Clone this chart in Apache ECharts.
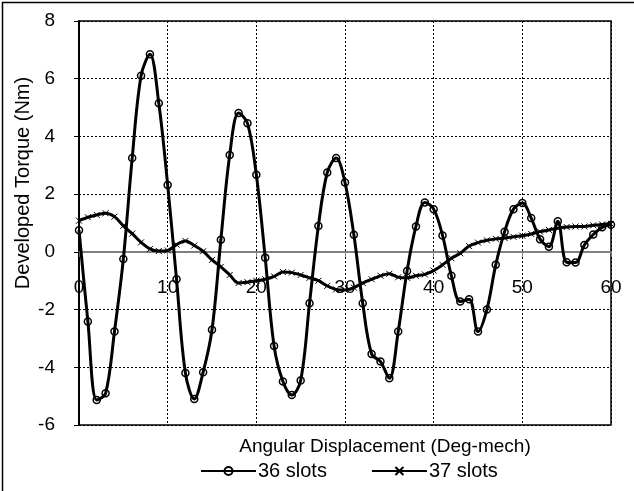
<!DOCTYPE html>
<html><head><meta charset="utf-8">
<script src="https://cdn.jsdelivr.net/npm/echarts@6/dist/echarts.min.js"></script>
<style>html,body{margin:0;padding:0;background:#fff}#c{width:634px;height:491px}</style>
</head><body><div id="c"></div>
<script>
const angles = [0,1,2,3,4,5,6,7,8,9,10,11,12,13,14,15,16,17,18,19,20,21,22,23,24,25,26,27,28,29,30,
  31,32,33,34,35,36,37,38,39,40,41,42,43,44,45,46,47,48,49,50,51,52,53,54,55,56,57,58,59,60];
const slots36 = [0.75,-2.41,-5.13,-4.9,-2.76,-0.25,3.25,6.1,6.85,5.15,2.32,-0.95,-4.2,-5.1,-4.17,-2.7,
  0.42,3.36,4.81,4.46,2.67,-0.2,-3.26,-4.49,-4.96,-4.46,-1.78,0.9,2.75,3.25,2.4,0.59,-1.78,-3.54,-3.8,
  -4.38,-2.76,-0.66,0.88,1.71,1.48,0.57,-0.83,-1.72,-1.64,-2.76,-2.0,-0.45,0.7,1.48,1.69,1.17,0.44,0.18,
  1.06,-0.36,-0.37,0.24,0.6,0.85,0.94];
const slots37 = [1.08,1.2,1.28,1.34,1.22,0.9,0.63,0.33,0.1,0.03,0.05,0.25,0.38,0.22,0.02,-0.28,-0.52,
  -0.8,-1.08,-1.05,-1.0,-0.95,-0.85,-0.7,-0.72,-0.8,-0.9,-1.0,-1.18,-1.3,-1.32,-1.24,-1.08,-0.95,-0.83,
  -0.76,-0.88,-0.9,-0.83,-0.78,-0.65,-0.45,-0.22,-0.05,0.2,0.32,0.4,0.45,0.48,0.52,0.56,0.62,0.7,0.76,
  0.82,0.86,0.88,0.88,0.92,0.95,0.97];
const xTicks = {min:0, max:60, step:10};
const yTicks = {min:-6, max:8, step:2};
const seriesNames = ['36 slots','37 slots'];
const xTitle = 'Angular Displacement (Deg-mech)';
const yTitle = 'Developed Torque (Nm)';

const FONT = 'Liberation Sans';
const W = 634, H = 491;
const G = {left:79, right:23, top:21, bottom:66};
const gridH = H - G.top - G.bottom;
// put the category axis line on y = 0 (as in the spreadsheet chart)
const zeroOffset = -((0 - yTicks.min) / (yTicks.max - yTicks.min)) * gridH;

const chart = echarts.init(document.getElementById('c'), null, {renderer:'canvas'});
const pairs = (vals) => angles.map((a,i)=>[a, vals[i]]);
chart.setOption({
  animation:false,
  backgroundColor:'#fff',
  grid:{left:G.left, right:G.right, top:G.top, bottom:G.bottom, show:true, borderColor:'#000', borderWidth:1.5, backgroundColor:'transparent'},
  xAxis:{type:'value', min:xTicks.min, max:xTicks.max, interval:xTicks.step,
    position:'bottom', offset:zeroOffset,
    axisLine:{onZero:false, lineStyle:{color:'#808080', width:2}},
    axisTick:{show:true, length:5, lineStyle:{color:'#808080'}},
    axisLabel:{color:'#000', fontSize:19, fontFamily:FONT, margin:26},
    splitLine:{show:true, lineStyle:{color:'#000', type:[2,2], width:1}}},
  yAxis:{type:'value', min:yTicks.min, max:yTicks.max, interval:yTicks.step,
    axisLine:{show:true, onZero:false, lineStyle:{color:'#000', width:2}},
    axisTick:{show:true, length:5, lineStyle:{color:'#000'}},
    axisLabel:{color:'#000', fontSize:19, fontFamily:FONT, margin:24},
    splitLine:{show:true, lineStyle:{color:'#000', type:[2,2], width:1}}},
  legend:{left:200, top:461, padding:0, itemGap:44, itemWidth:55, itemHeight:10,
    textStyle:{color:'#000', fontSize:20, fontFamily:FONT, padding:[0,0,0,-3]},
    data:seriesNames},
  graphic:[
    {type:'rect', left:0, top:0, shape:{width:633, height:490}, style:{fill:'none', stroke:'#000', lineWidth:1.5}, silent:true},
    {type:'text', x:385, y:447, style:{text:xTitle, fill:'#000', font:'19px "Liberation Sans"', textAlign:'center', textVerticalAlign:'middle'}},
    {type:'text', x:23, y:183, rotation:Math.PI/2, style:{text:yTitle, fill:'#000', font:'20px "Liberation Sans"', textAlign:'center', textVerticalAlign:'middle'}}
  ],
  series:[
    {name:seriesNames[0], type:'line', data:pairs(slots36), smooth:0.35, z:3,
      lineStyle:{color:'#000', width:3},
      symbol:'circle', symbolSize:7,
      itemStyle:{color:'rgba(255,255,255,0)', borderColor:'#000', borderWidth:1.5}},
    {name:seriesNames[1], type:'line', data:pairs(slots37), smooth:0.35, z:2,
      lineStyle:{color:'#000', width:3},
      symbol:'path://M0,0L10,10M10,0L0,10', symbolSize:6,
      itemStyle:{color:'#000', borderColor:'#000', borderWidth:1}}
  ]
});
</script></body></html>
